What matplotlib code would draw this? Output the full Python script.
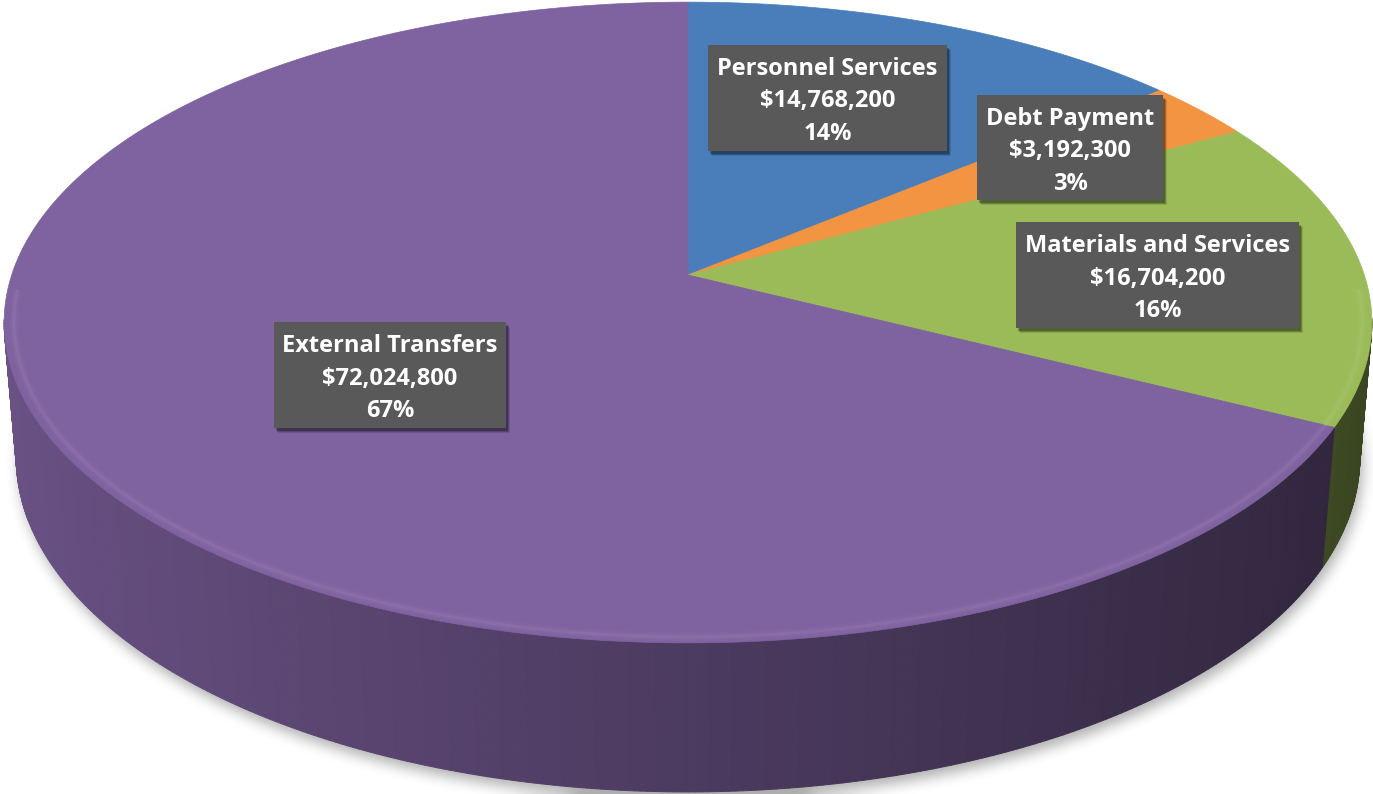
import numpy as np
import matplotlib
matplotlib.use("Agg")
import matplotlib.pyplot as plt
from matplotlib.patches import Polygon, Rectangle
from matplotlib.collections import PolyCollection
from matplotlib.path import Path
from matplotlib.colors import to_rgb

# ---- data -------------------------------------------------------------
categories = ["Personnel Services", "Debt Payment",
              "Materials and Services", "External Transfers"]
amounts = [14768200, 3192300, 16704200, 72024800]
percent_labels = ["14%", "3%", "16%", "67%"]

# ---- style ------------------------------------------------------------
top_colors = ["#4A7EBB", "#F29441", "#9BBB59", "#7F62A0"]
label_boxes = [(708, 45, 947, 151),     # x0, y0, x1, y1 in pixels
               (977, 95, 1163, 200),
               (1016, 222, 1299, 328),
               (274, 322, 506, 428)]
box_color = "#595959"
font = ["Open Sans", "DejaVu Sans"]

W, H = 1373, 794
fig = plt.figure(figsize=(W / 100, H / 100), dpi=100)
ax = fig.add_axes([0, 0, 1, 1])
ax.set_xlim(0, W)
ax.set_ylim(H, 0)
ax.axis("off")

# ---- perspective camera for the 3-D disc -------------------------------
phi = np.radians(27.6)
cphi, sphi = np.cos(phi), np.sin(phi)
dist = 5.978
focal = 4043.0
thickness = 0.227
cx, cy = 688.0, 275.0


def project(theta, z=0.0, r=1.0):
    theta = np.asarray(theta, dtype=float)
    x = r * np.sin(theta)
    y = r * np.cos(theta)
    d = y * cphi - z * sphi + dist
    sx = cx + focal * x / d
    sy = cy - focal * (y * sphi + z * cphi) / d
    return sx, sy


total = float(sum(amounts))
fractions = np.array(amounts) / total
bounds = np.concatenate([[0.0], np.cumsum(fractions)]) * 2 * np.pi


def shade(color, k):
    r, g, b = to_rgb(color)
    return (r * k, g * k, b * k)


def lighten(color, t):
    r, g, b = to_rgb(color)
    return (r + (1 - r) * t, g + (1 - g) * t, b + (1 - b) * t)


# ---- soft drop shadow under the disc ----------------------------------
full = np.linspace(0, 2 * np.pi, 720)
bx, by = project(full, z=-thickness)
shadow_path = Path(np.column_stack([bx + 3, by + 7]))
gx, gy = np.meshgrid(np.arange(W) + 0.5, np.arange(H) + 0.5)
mask = shadow_path.contains_points(np.column_stack([gx.ravel(), gy.ravel()]))
mask = mask.reshape(H, W).astype(float)


def box_blur(a, r):
    pad = np.pad(a, ((r + 1, r), (0, 0)), mode="edge")
    c = np.cumsum(pad, axis=0)
    a = (c[2 * r + 1:] - c[:-2 * r - 1]) / (2 * r + 1)
    pad = np.pad(a, ((0, 0), (r + 1, r)), mode="edge")
    c = np.cumsum(pad, axis=1)
    return (c[:, 2 * r + 1:] - c[:, :-2 * r - 1]) / (2 * r + 1)


for _ in range(3):
    mask = box_blur(mask, 6)
rgba = np.zeros((H, W, 4))
rgba[..., 3] = mask * 0.32
ax.imshow(rgba, extent=(0, W, H, 0), zorder=0, interpolation="bilinear")

# ---- outer wall -------------------------------------------------------
quads, quad_colors = [], []
limit = -1.0 / (dist * cphi) + 0.05
for i, color in enumerate(top_colors):
    a0, a1 = bounds[i], bounds[i + 1]
    n = max(2, int(np.degrees(a1 - a0) / 0.5))
    ts = np.linspace(a0, a1, n + 1)
    for t0, t1 in zip(ts[:-1], ts[1:]):
        mid = 0.5 * (t0 + t1)
        if np.cos(mid) > limit:
            continue
        tx0, ty0 = project(t0)
        tx1, ty1 = project(t1)
        bx0, by0 = project(t0, z=-thickness)
        bx1, by1 = project(t1, z=-thickness)
        quads.append([(tx0, ty0), (tx1, ty1), (bx1, by1), (bx0, by0)])
        k = 0.60 - 0.235 * np.sin(mid)
        quad_colors.append(shade(color, k))

walls = PolyCollection(quads, facecolors=quad_colors, edgecolors=quad_colors,
                       linewidths=0.7, zorder=2)
ax.add_collection(walls)

# ---- top faces --------------------------------------------------------
for i, color in enumerate(top_colors):
    a0, a1 = bounds[i], bounds[i + 1]
    ts = np.linspace(a0, a1, max(3, int(np.degrees(a1 - a0) * 2)))
    rx, ry = project(ts)
    pts = [(cx, cy)] + list(zip(rx, ry))
    ax.add_patch(Polygon(pts, closed=True, facecolor=color, edgecolor=color,
                         linewidth=0.5, zorder=3))

    # soft bevel highlight along the front rim
    vis = ts[np.cos(ts) < limit + 0.1]
    if len(vis) > 1:
        hx, hy = project(vis, r=0.986)
        for lw, al in ((7.0, 0.10), (4.0, 0.18), (2.0, 0.30)):
            ax.plot(hx, hy, color=lighten(color, 0.16), lw=lw, alpha=al,
                    solid_capstyle="butt", zorder=4)

# ---- data labels ------------------------------------------------------
for name, amt, pct, (x0, y0, x1, y1) in zip(categories, amounts,
                                            percent_labels, label_boxes):
    w, h = x1 - x0, y1 - y0
    for off, al in ((5, 0.12), (4, 0.2), (3, 0.25)):
        ax.add_patch(Rectangle((x0 + off - 1, y0 + off), w, h,
                               facecolor="black", edgecolor="none",
                               alpha=al, zorder=5))
    ax.add_patch(Rectangle((x0, y0), w, h, facecolor=box_color,
                           edgecolor="none", zorder=6))
    xc = 0.5 * (x0 + x1)
    lines = [name, f"${amt:,.0f}", pct]
    for j, txt in enumerate(lines):
        ax.text(xc, y0 + 30 + 32.5 * j, txt, ha="center", va="baseline",
                color="white", fontsize=17, fontweight="bold",
                family=font, zorder=7)

fig.savefig("out.png", dpi=100)
